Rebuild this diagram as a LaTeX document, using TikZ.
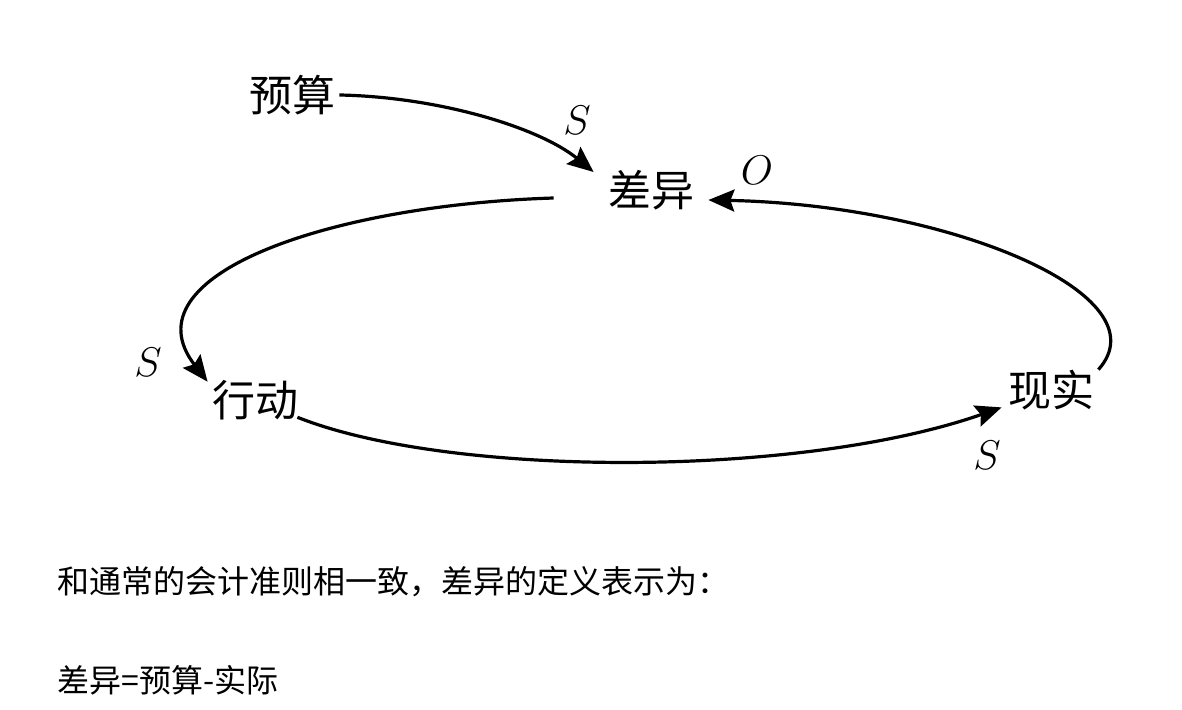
\documentclass[tikz,border=0pt]{standalone}
\usepackage{fontspec}
\setmainfont{Noto Sans CJK SC}
\usetikzlibrary{arrows.meta,calc}
\begin{document}
\begin{tikzpicture}[x=0.5pt, y=-0.5pt,
  term/.style={inner sep=2pt, font=\fontsize{21.5}{24}\selectfont},
  pol/.style={inner sep=0pt, font=\fontsize{22}{24}\selectfont},
  link/.style={line width=1.6pt, -{Stealth[length=13pt,width=11pt,inset=2pt]}},
  note/.style={anchor=west, inner sep=0pt, font=\fontsize{16}{18}\selectfont},
]
\useasboundingbox (0,0) rectangle (1182,710);
% loop terms
\node[term] (budget) at (292,95) {预算};
\node[term] (diff) at (651,190) {差异};
\node[term] (act) at (255,400) {行动};
\node[term] (real) at (1051,390) {现实};
% links
\draw[link] (budget.east) .. controls (440,97) and (540,128) .. ($(diff.west)+(-10,-18)$);
\draw[link] ($(real.north east)+(0,4)$) .. controls (1165,295) and (950,205) .. ($(diff.east)+(10,10)$);
\draw[link] ($(diff.west)+(-50,8)$) .. controls (330,205) and (125,275) .. ($(act.north west)+(0,6)$);
\draw[link] ($(act.south east)+(-5,-7)$) .. controls (450,478) and (800,478) .. ($(real.south west)+(-2,-7)$);
% polarities
\node[pol] (s1) at (577,120) {$S$};
\node[pol] (o1) at (757,170) {$O$};
\node[pol] (s2) at (148,362) {$S$};
\node[pol] (s3) at (987,455) {$S$};
% text below
\node[note] (rule) at (57,582) {和通常的会计准则相一致，差异的定义表示为：};
\node[note] (formula) at (57,680) {差异=预算-实际};
\end{tikzpicture}
\end{document}
